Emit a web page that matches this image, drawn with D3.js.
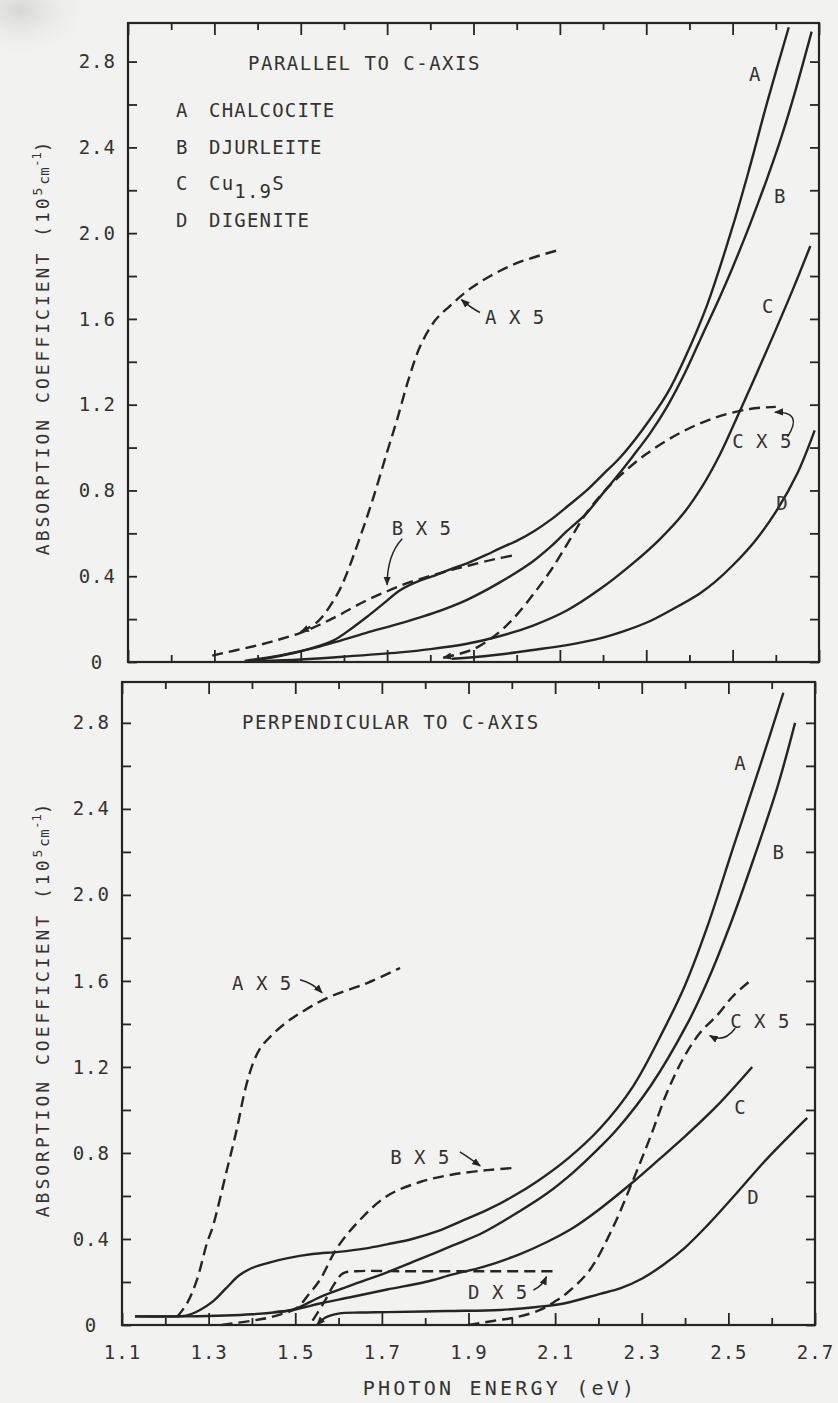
<!DOCTYPE html>
<html>
<head>
<meta charset="utf-8">
<script src="https://cdn.jsdelivr.net/npm/d3@7"></script>
<style>
  body { margin: 0; background: #f2f2f0; }
  svg { display: block; }
  text { font-family: "DejaVu Sans Mono", "Liberation Mono", monospace; fill: #333; }
</style>
</head>
<body>
<svg id="chart" width="838" height="1403"></svg>
<script>
// photon energy (eV) against absorption coefficient (1e5 cm^-1)
const xTicks = d3.range(11, 28).map(d => d / 10);
const xTickLabels = ["1.1", "1.3", "1.5", "1.7", "1.9", "2.1", "2.3", "2.5", "2.7"];
const yTicks = d3.range(0, 15).map(d => d / 5);
const yTickLabels = ["0", "0.4", "0.8", "1.2", "1.6", "2.0", "2.4", "2.8"];
const legendKeys = ["A", "B", "C", "D"];
const legendNames = ["CHALCOCITE", "DJURLEITE", "Cu|1.9|S", "DIGENITE"];

// parallel to c-axis
const parA = [[1.38,0.005],[1.43,0.02],[1.50,0.05],[1.575,0.10],[1.62,0.16],[1.653,0.21],[1.69,0.27],
  [1.73,0.335],[1.77,0.375],[1.806,0.40],[1.85,0.435],[1.885,0.46],[1.93,0.50],[1.961,0.53],[2.0,0.565],
  [2.04,0.61],[2.08,0.665],[2.12,0.73],[2.162,0.80],[2.20,0.875],[2.24,0.955],[2.29,1.08],[2.348,1.25],
  [2.39,1.42],[2.44,1.66],[2.50,2.03],[2.54,2.31],[2.58,2.61],[2.63,2.96]];
const parB = [[1.37,0.005],[1.45,0.03],[1.52,0.06],[1.575,0.09],[1.65,0.135],[1.73,0.18],[1.81,0.23],
  [1.885,0.29],[1.96,0.37],[2.038,0.47],[2.08,0.54],[2.116,0.61],[2.16,0.69],[2.193,0.77],[2.23,0.86],
  [2.269,0.96],[2.31,1.07],[2.348,1.19],[2.39,1.35],[2.431,1.53],[2.47,1.70],[2.50,1.84],[2.54,2.04],
  [2.579,2.25],[2.61,2.43],[2.639,2.62],[2.683,2.94]];
const parC = [[1.40,0.004],[1.50,0.012],[1.60,0.025],[1.73,0.045],[1.80,0.06],[1.885,0.085],[1.96,0.12],
  [2.038,0.17],[2.116,0.24],[2.193,0.34],[2.269,0.46],[2.33,0.57],[2.385,0.69],[2.43,0.82],[2.47,0.965],
  [2.51,1.14],[2.55,1.32],[2.60,1.55],[2.64,1.74],[2.68,1.94]];
const parD = [[1.85,0.015],[1.885,0.02],[1.96,0.035],[2.038,0.056],[2.12,0.08],[2.193,0.11],[2.25,0.145],
  [2.308,0.19],[2.36,0.245],[2.424,0.32],[2.46,0.375],[2.50,0.45],[2.55,0.56],[2.60,0.70],[2.65,0.88],[2.69,1.08]];
const parAx5 = [[1.50,0.14],[1.54,0.19],[1.58,0.30],[1.60,0.38],[1.637,0.58],[1.667,0.76],[1.70,0.98],
  [1.723,1.13],[1.75,1.32],[1.776,1.47],[1.81,1.59],[1.845,1.66],[1.885,1.73],[1.93,1.79],[2.0,1.86],[2.095,1.92]];
const parBx5 = [[1.295,0.03],[1.35,0.055],[1.405,0.08],[1.45,0.105],[1.498,0.135],[1.545,0.175],[1.59,0.22],
  [1.645,0.28],[1.70,0.33],[1.75,0.37],[1.806,0.405],[1.85,0.43],[1.89,0.45],[1.95,0.48],[2.0,0.50]];
const parCx5 = [[1.83,0.02],[1.90,0.06],[1.96,0.14],[2.0,0.22],[2.04,0.32],[2.08,0.43],[2.12,0.56],[2.16,0.69],
  [2.20,0.79],[2.24,0.87],[2.30,0.97],[2.38,1.07],[2.46,1.14],[2.54,1.18],[2.60,1.19]];

// perpendicular to c-axis
const perpA = [[1.13,0.04],[1.20,0.04],[1.25,0.045],[1.28,0.07],[1.31,0.11],[1.34,0.17],[1.37,0.23],
  [1.40,0.265],[1.44,0.29],[1.48,0.31],[1.54,0.33],[1.60,0.34],[1.66,0.355],[1.712,0.375],[1.77,0.40],
  [1.827,0.435],[1.88,0.48],[1.943,0.535],[2.0,0.595],[2.06,0.67],[2.13,0.775],[2.204,0.915],[2.28,1.11],
  [2.35,1.37],[2.40,1.58],[2.451,1.85],[2.511,2.22],[2.578,2.63],[2.627,2.94]];
const perpB = [[1.45,0.06],[1.50,0.075],[1.557,0.13],[1.63,0.185],[1.712,0.245],[1.78,0.30],[1.864,0.37],
  [1.934,0.43],[2.019,0.53],[2.08,0.61],[2.142,0.71],[2.20,0.82],[2.243,0.91],[2.32,1.11],[2.405,1.40],
  [2.45,1.59],[2.504,1.86],[2.557,2.16],[2.613,2.50],[2.654,2.80]];
const perpC = [[1.13,0.04],[1.25,0.04],[1.40,0.05],[1.495,0.07],[1.557,0.10],[1.63,0.13],[1.712,0.165],
  [1.80,0.20],[1.864,0.235],[1.934,0.27],[2.019,0.33],[2.08,0.385],[2.14,0.45],[2.20,0.535],
  [2.28,0.665],[2.34,0.77],[2.396,0.87],[2.474,1.02],[2.555,1.20]];
const perpD = [[1.55,0.0],[1.57,0.035],[1.60,0.053],[1.65,0.058],[1.712,0.06],[1.85,0.065],[1.973,0.07],
  [2.058,0.084],[2.12,0.10],[2.204,0.145],[2.25,0.17],[2.30,0.215],[2.35,0.28],[2.40,0.36],
  [2.45,0.46],[2.511,0.595],[2.59,0.775],[2.682,0.963]];
const perpAx5 = [[1.227,0.037],[1.25,0.10],[1.273,0.21],[1.296,0.38],[1.31,0.46],[1.342,0.72],[1.365,0.91],
  [1.385,1.10],[1.403,1.22],[1.42,1.29],[1.442,1.34],[1.475,1.40],[1.511,1.45],[1.573,1.52],[1.666,1.59],[1.742,1.66]];
const perpBx5 = [[1.33,0.0],[1.40,0.02],[1.45,0.04],[1.504,0.08],[1.53,0.14],[1.557,0.21],[1.597,0.36],
  [1.65,0.49],[1.712,0.60],[1.788,0.665],[1.864,0.70],[1.943,0.72],[2.003,0.73]];
const perpCx5 = [[1.90,0.0],[1.96,0.02],[2.012,0.037],[2.065,0.07],[2.10,0.11],[2.128,0.15],[2.18,0.256],
  [2.234,0.456],[2.28,0.674],[2.32,0.875],[2.358,1.08],[2.396,1.24],[2.435,1.36],[2.474,1.44],[2.511,1.53],[2.55,1.60]];
const perpDx5 = [[1.54,0.02],[1.565,0.10],[1.59,0.19],[1.61,0.24],[1.64,0.25],[1.75,0.25],[1.90,0.25],[2.00,0.25],[2.095,0.25]];

// curve labels [text, energy, coefficient]
const parLabels = [["A",2.551,2.74],["B",2.609,2.17],["C",2.581,1.66],["D",2.614,0.74],
  ["A X 5",1.996,1.605],["B X 5",1.78,0.625],["C X 5",2.568,1.03]];
const perpLabels = [["A",2.527,2.61],["B",2.615,2.20],["C",2.527,1.01],["D",2.557,0.595],
  ["A X 5",1.423,1.59],["B X 5",1.788,0.78],["C X 5",2.573,1.41],["D X 5",1.968,0.15]];
// pointer arrows [from, control, to]
const parArrows = [[[1.915,1.63],[1.895,1.65],[1.872,1.69]],
  [[1.735,0.575],[1.70,0.50],[1.70,0.36]],
  [[2.627,1.05],[2.665,1.17],[2.598,1.165]]];
const perpArrows = [[[1.511,1.605],[1.54,1.59],[1.562,1.545]],
  [[1.88,0.805],[1.90,0.78],[1.927,0.74]],
  [[2.516,1.38],[2.49,1.31],[2.457,1.345]],
  [[2.05,0.163],[2.07,0.18],[2.08,0.225]]];

const svg = d3.select("#chart");
const ink = "#252525";

const defs = svg.append("defs");
defs.append("marker").attr("id", "head")
  .attr("viewBox", "0 0 10 10").attr("refX", 9).attr("refY", 5)
  .attr("markerWidth", 9).attr("markerHeight", 9).attr("markerUnits", "userSpaceOnUse")
  .attr("orient", "auto-start-reverse")
  .append("path").attr("d", "M0,1 L10,5 L0,9 z").attr("fill", ink);

// faint scanner smudge in the corner
const smudge = defs.append("radialGradient").attr("id", "smudge");
smudge.append("stop").attr("offset", "0%").attr("stop-color", "#cfcfcd").attr("stop-opacity", 0.8);
smudge.append("stop").attr("offset", "100%").attr("stop-color", "#f2f2f0").attr("stop-opacity", 0);
svg.append("ellipse").attr("cx", 20).attr("cy", 10).attr("rx", 75).attr("ry", 50).attr("fill", "url(#smudge)");

const panels = [
  { left: 128, right: 819, bottom: 662, top: 23, vmax: 2.98, labels: false, title: "PARALLEL TO C-AXIS",
    legend: true, curves: [
      { d: parA }, { d: parB }, { d: parC }, { d: parD },
      { d: parAx5, dash: true, head: true }, { d: parBx5, dash: true }, { d: parCx5, dash: true, head: true }],
    notes: parLabels, arrows: parArrows },
  { left: 122, right: 815, bottom: 1325, top: 682, vmax: 2.99, labels: true, title: "PERPENDICULAR TO C-AXIS",
    legend: false, curves: [
      { d: perpA }, { d: perpB }, { d: perpC }, { d: perpD, head: true },
      { d: perpAx5, dash: true }, { d: perpBx5, dash: true }, { d: perpCx5, dash: true }, { d: perpDx5, dash: true }],
    notes: perpLabels, arrows: perpArrows }
];

const fmtY = d => { const s = d3.format(".1f")(d); return d === 0 ? "0" : (yTickLabels.includes(s) ? s : ""); };
const fmtX = d => { const s = d3.format(".1f")(d); return xTickLabels.includes(s) ? s : ""; };
const isMajor = d => Math.round(d * 10) % 2 === 1;

panels.forEach(p => {
  const x = d3.scaleLinear().domain([1.1, 2.7]).range([p.left, p.right]);
  const y = d3.scaleLinear().domain([0, p.vmax]).range([p.bottom, p.top]);
  const g = svg.append("g");

  // axes, ticks pointing inward
  const bottomAxis = g.append("g").attr("transform", `translate(0,${p.bottom})`)
    .call(d3.axisBottom(x).tickValues(xTicks).tickSize(-12).tickPadding(21)
      .tickFormat(p.labels ? fmtX : () => ""));
  bottomAxis.selectAll(".tick line").attr("y2", d => isMajor(d) ? -12 : -7);
  const topAxis = g.append("g").attr("transform", `translate(0,${y(p.vmax)})`)
    .call(d3.axisTop(x).tickValues(xTicks).tickSize(-12).tickFormat(() => ""));
  topAxis.selectAll(".tick line").attr("y2", d => isMajor(d) ? 12 : 7);
  const leftAxis = g.append("g").attr("transform", `translate(${p.left},0)`)
    .call(d3.axisLeft(y).tickValues(yTicks).tickSize(-9).tickPadding(12).tickFormat(fmtY));
  // the zero sits centred under the other labels
  leftAxis.selectAll(".tick text").filter(d => d === 0)
    .attr("text-anchor", "middle").attr("x", -31);
  g.append("g").attr("transform", `translate(${p.right},0)`)
    .call(d3.axisRight(y).tickValues(yTicks).tickSize(-9).tickFormat(() => ""));

  g.selectAll(".domain").remove();
  g.selectAll(".tick line").attr("stroke", ink).attr("stroke-width", 1.8);
  g.selectAll(".tick text").attr("font-size", 19).attr("letter-spacing", 1)
    .attr("font-family", "DejaVu Sans Mono, monospace").attr("fill", "#333");

  // frame
  g.append("rect")
    .attr("x", x(1.1)).attr("y", y(p.vmax))
    .attr("width", x(2.7) - x(1.1)).attr("height", y(0) - y(p.vmax))
    .attr("fill", "none").attr("stroke", ink).attr("stroke-width", 2.2);

  // curves
  const line = d3.line().x(d => x(d[0])).y(d => y(d[1])).curve(d3.curveCatmullRom.alpha(0.5));
  g.selectAll("path.curve").data(p.curves).join("path")
    .attr("class", "curve")
    .attr("d", c => line(c.d))
    .attr("fill", "none").attr("stroke", ink).attr("stroke-width", 2.4)
    .attr("stroke-linecap", "butt")
    .attr("stroke-dasharray", c => c.dash ? "11,6" : null)
    .attr("marker-start", c => c.head ? "url(#head)" : null);

  // curve labels
  g.selectAll("text.note").data(p.notes).join("text")
    .attr("class", "note")
    .attr("x", d => x(d[1])).attr("y", d => y(d[2]))
    .attr("dy", "0.35em").attr("text-anchor", "middle")
    .attr("font-size", 19).attr("letter-spacing", d => d[0].length > 1 ? 0.5 : 0)
    .text(d => d[0]);

  // pointer arrows
  g.selectAll("path.arrow").data(p.arrows).join("path")
    .attr("class", "arrow")
    .attr("d", a => {
      const pth = d3.path();
      pth.moveTo(x(a[0][0]), y(a[0][1]));
      pth.quadraticCurveTo(x(a[1][0]), y(a[1][1]), x(a[2][0]), y(a[2][1]));
      return pth.toString();
    })
    .attr("fill", "none").attr("stroke", ink).attr("stroke-width", 1.5)
    .attr("marker-end", "url(#head)");

  // panel title
  g.append("text").attr("x", p.left + 120).attr("y", y(p.vmax) + 47)
    .attr("font-size", 19).attr("letter-spacing", 1.5).text(p.title);

  if (p.legend) {
    legendKeys.forEach((k, i) => {
      const ty = y(p.vmax) + 94 + i * 36.5;
      g.append("text").attr("x", p.left + 48).attr("y", ty).attr("font-size", 19).text(k);
      const t = g.append("text").attr("x", p.left + 81).attr("y", ty)
        .attr("font-size", 19).attr("letter-spacing", 1.2);
      const parts = legendNames[i].split("|");
      if (parts.length === 1) t.text(parts[0]);
      else {
        t.append("tspan").text(parts[0]);
        t.append("tspan").attr("dy", 8).text(parts[1]);
        t.append("tspan").attr("dy", -8).text(parts[2]);
      }
    });
  }

  // y-axis title
  const yl = g.append("text")
    .attr("transform", `translate(49,${y(1.47)}) rotate(-90)`)
    .attr("text-anchor", "middle").attr("font-size", 18).attr("letter-spacing", 3);
  yl.append("tspan").text("ABSORPTION COEFFICIENT (10");
  yl.append("tspan").attr("font-size", 13).attr("dy", -7).text("5");
  yl.append("tspan").attr("font-size", 14).attr("dy", 7).attr("letter-spacing", 0.5).text("cm");
  yl.append("tspan").attr("font-size", 12).attr("dy", -8).attr("letter-spacing", 0).text("-1");
  yl.append("tspan").attr("dy", 8).text(")");

  if (p.labels) {
    g.append("text").attr("x", 500).attr("y", p.bottom + 70)
      .attr("text-anchor", "middle").attr("font-size", 20).attr("letter-spacing", 3.2)
      .text("PHOTON ENERGY (eV)");
  }
});
</script>
</body>
</html>
